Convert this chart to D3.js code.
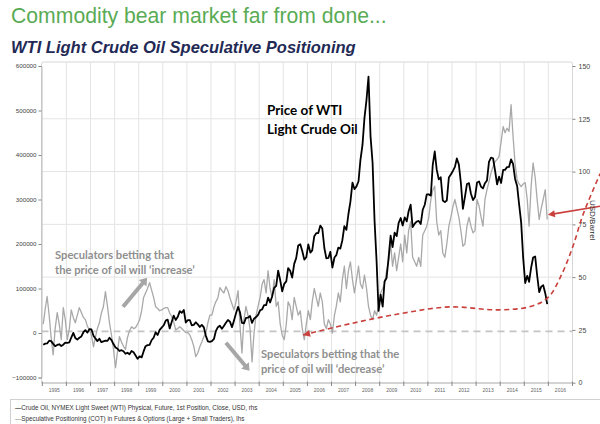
<!DOCTYPE html>
<html><head><meta charset="utf-8">
<script src="https://cdn.jsdelivr.net/npm/d3@7/dist/d3.min.js"></script>
<style>
body{margin:0;background:#fff;}
svg{display:block;font-family:"Liberation Sans",Arial,sans-serif;}
</style></head><body>
<svg id="c" width="600" height="424"></svg>
<script>
// ---------- DATA ----------
const startYear = 1995; // monthly series start (January)
// WTI crude oil, USD/barrel (right axis), monthly Jan 1995 - Dec 2015
const wti = [
18.0,18.5,18.6,19.9,19.7,18.4,17.3,17.9,18.2,17.4,18.0,19.0,
18.9,19.1,21.4,23.6,21.2,20.4,21.3,21.9,23.9,24.9,23.7,25.4,
25.2,22.2,21.0,19.7,20.8,19.2,19.6,19.9,19.8,21.3,20.2,18.3,
16.7,16.1,15.0,15.4,14.9,13.7,14.2,13.5,15.0,14.4,12.9,11.3,
12.5,12.0,14.7,17.3,17.8,17.9,20.1,21.3,23.9,22.6,25.0,26.1,
27.2,29.4,29.9,25.7,28.8,31.8,29.7,31.2,33.9,33.1,34.4,28.5,
29.6,29.6,27.2,27.4,28.6,27.6,26.4,27.4,26.2,22.2,19.6,19.3,
19.7,20.7,24.4,26.3,27.0,25.5,26.9,28.4,29.7,28.9,26.3,29.4,
32.9,35.9,33.5,28.3,28.1,30.7,30.8,31.6,28.3,30.3,31.1,32.1,
34.3,34.7,36.7,36.7,40.3,38.0,40.8,44.9,45.9,53.1,48.5,43.3,
46.8,48.0,54.3,53.0,49.8,56.3,59.0,65.0,65.6,62.4,58.3,59.4,
65.5,61.6,62.7,69.4,70.8,70.9,74.4,73.0,63.8,58.9,59.1,62.0,
54.5,59.3,60.4,64.0,63.5,67.5,74.1,72.4,79.9,85.8,94.8,91.7,
93.0,95.4,105.5,112.6,125.4,134.0,145.0,116.7,104.1,76.6,57.3,34.0,
41.7,36.0,47.9,49.6,59.0,69.6,64.2,71.1,69.4,75.7,78.0,74.5,
78.3,76.4,81.2,84.3,73.7,75.3,76.3,76.6,75.2,81.9,84.3,89.2,
89.2,88.6,102.9,109.5,100.9,96.3,97.3,86.3,85.5,86.3,97.2,98.6,
100.3,102.2,106.2,103.3,94.7,82.3,87.9,94.1,94.5,89.5,86.5,87.9,
94.8,95.3,92.9,92.0,94.5,95.8,104.6,106.6,106.3,100.5,93.9,97.6,
94.6,100.8,100.8,102.1,102.2,105.8,103.6,96.5,93.2,84.4,75.8,59.3,
47.2,50.6,47.8,54.5,59.3,59.8,50.9,42.9,45.5,46.2,42.4,37.2
];
// Speculative net positioning, thousands of contracts (left axis), monthly Jan 1995 - Dec 2015
const positioning = [
20,55,82,40,-10,-49,10,46,20,-15,57,30,
-15,10,52,35,23,40,57,46,35,30,15,7,
-5,-31,-10,10,23,45,59,93,60,23,-5,-37,
-78,-40,-8,-20,-30,-37,-10,5,14,10,12,20,
30,50,79,90,100,113,97,80,59,55,50,52,
55,57,57,45,37,25,7,10,14,10,5,1,
1,-5,-15,-30,-53,-45,-31,-20,-8,0,23,40,
40,59,70,79,102,95,90,104,95,79,65,52,
70,95,20,-45,30,60,40,10,-65,0,40,60,
80,110,120,90,140,100,80,120,60,70,20,-5,
-15,20,70,60,30,80,60,40,50,10,-15,20,
50,30,70,100,80,60,90,70,20,10,30,20,
0,40,60,90,70,120,150,100,140,160,120,90,
120,150,110,100,130,100,60,40,30,50,40,60,
90,100,110,140,160,200,150,180,140,170,200,160,
220,180,230,250,170,160,150,170,150,220,230,240,
260,300,320,330,250,220,230,180,170,200,240,260,
284,300,280,260,230,195,200,240,260,240,225,230,
300,285,262,240,300,322,340,360,374,385,390,397,
430,464,450,460,453,513,442,380,344,335,329,335,
338,300,240,330,382,350,300,255,280,300,322,255
];
const yearLabels = d3.range(1995, 2017);
const leftTicks = [-100000,0,100000,200000,300000,400000,500000,600000];
const rightTicks = [0,25,50,75,100,125,150];
const legendItems = [
  {text:"Crude Oil, NYMEX Light Sweet (WTI) Physical, Future, 1st Position, Close, USD, rhs", color:"#000"},
  {text:"Speculative Positioning (COT) in Futures & Options (Large + Small Traders), lhs", color:"#888"}
];
// annotation anchors in data space [year, value]
const redCurve = [[2005.82,22.6],[2007.8,28],[2009.9,32.8],[2011.9,35.9],[2013.9,34.5],[2015.3,36.2],[2016.0,40.5],[2016.5,50],[2017.0,64],[2017.45,80],[2018.15,99]];
const redArrow = [[2018.15,83.6],[2015.98,79.5]];
const upArrow = [[1998.35,59000],[1999.35,124000]];
const downArrow = [[2002.62,-22000],[2003.6,-85000]];

// ---------- LAYOUT ----------
const svg = d3.select("#c");
const X0 = 42.3, X1 = 572.5, PT = 62, PB = 383;
const toDate = y => { const yr = Math.floor(y); return new Date(yr,0,1).getTime() + (y-yr)*(new Date(yr+1,0,1)-new Date(yr,0,1)); };
const x = d3.scaleTime().domain([new Date(1995,0,1), new Date(2017,0,1)]).range([X0, X1]);
const yR = d3.scaleLinear().domain([0,150]).range([382.7,66]);
const yL = d3.scaleLinear().domain([-100000,600000]).range([377.5,66]);
const months = d3.range(wti.length).map(i => new Date(startYear, i, 15));

// titles
svg.append("text").attr("x",11).attr("y",23).attr("fill","#5aab55")
  .style("font-size","21.2px").text("Commodity bear market far from done...");
svg.append("text").attr("x",11).attr("y",53).attr("fill","#1f2a55")
  .style("font-size","16.5px").style("font-weight","bold").style("font-style","italic")
  .text("WTI Light Crude Oil Speculative Positioning");

// plot frame
svg.append("rect").attr("x",41.5).attr("y",PT).attr("width",X1-41.5).attr("height",PB-PT)
  .attr("fill","#fff").attr("stroke","#d6d6d6").attr("rx",2);

// vertical grid
const yearBounds = d3.timeYear.range(new Date(1996,0,1), new Date(2017,0,1));
svg.append("g").selectAll("line").data(yearBounds).join("line")
  .attr("x1",d=>x(d)).attr("x2",d=>x(d)).attr("y1",PT).attr("y2",PB)
  .attr("stroke","#e4e4e4").attr("stroke-width",1);
// horizontal grid (right axis ticks)
svg.append("g").selectAll("line").data(rightTicks.filter(t=>t>25 && t<150)).join("line")
  .attr("x1",41.5).attr("x2",X1).attr("y1",d=>yR(d)).attr("y2",d=>yR(d))
  .attr("stroke","#e4e4e4").attr("stroke-width",1);
svg.append("line").attr("x1",41.5).attr("x2",X1).attr("y1",yR(25)+1.5).attr("y2",yR(25)+1.5)
  .attr("stroke","#c4c4c4").attr("stroke-width",1.6).attr("stroke-dasharray","7,5");

// left axis
const gl = svg.append("g").attr("transform",`translate(41.5,0)`)
  .call(d3.axisLeft(yL).tickValues(leftTicks).tickSize(3).tickPadding(2).tickFormat(d3.format("d")));
gl.select(".domain").attr("stroke","#bbb");
gl.selectAll(".tick line").attr("stroke","#888");
gl.selectAll("text").style("font-size","6.2px").attr("fill","#444").style("font-family","Liberation Sans, Arial");
// right axis
const gr = svg.append("g").attr("transform",`translate(${X1},0)`)
  .call(d3.axisRight(yR).tickValues(rightTicks).tickSize(3).tickPadding(3));
gr.select(".domain").remove();
gr.selectAll(".tick line").attr("stroke","#888");
gr.selectAll("text").style("font-size","7px").attr("fill","#444").style("font-family","Liberation Sans, Arial");
// bottom axis
const gb = svg.append("g").attr("transform",`translate(0,${PB})`);
gb.append("line").attr("x1",41.5).attr("x2",X1).attr("stroke","#bbb");
gb.selectAll("line.tk").data(d3.timeYear.range(new Date(1995,0,1), new Date(2018,0,1))).join("line")
  .attr("class","tk").attr("x1",d=>x(d)).attr("x2",d=>x(d)).attr("y1",-1.5).attr("y2",3).attr("stroke","#888");
gb.selectAll("text").data(yearLabels).join("text")
  .attr("x",d=>x(new Date(d,6,2))).attr("y",8.5).attr("text-anchor","middle")
  .style("font-size","5px").attr("fill","#666").text(d=>d);

// series
const lineL = d3.line().x((d,i)=>x(months[i])).y(d=>yL(d*1000));
const lineR = d3.line().x((d,i)=>x(months[i])).y(d=>yR(d));
svg.append("path").datum(positioning).attr("d",lineL).attr("fill","none")
  .attr("stroke","#a9a9a9").attr("stroke-width",1.3).attr("stroke-linejoin","round");
svg.append("path").datum(wti).attr("d",lineR).attr("fill","none")
  .attr("stroke","#000").attr("stroke-width",1.8).attr("stroke-linejoin","round");

// arrows
function arrow(x1,y1,x2,y2,color,w,hl,hw){
  const dx=x2-x1, dy=y2-y1, L=Math.hypot(dx,dy), ux=dx/L, uy=dy/L;
  const bx=x2-ux*hl, by=y2-uy*hl;
  svg.append("line").attr("x1",x1).attr("y1",y1).attr("x2",bx+ux*1).attr("y2",by+uy*1)
    .attr("stroke",color).attr("stroke-width",w);
  svg.append("path").attr("d",`M${x2},${y2}L${bx-uy*hw},${by+ux*hw}L${bx+uy*hw},${by-ux*hw}Z`).attr("fill",color);
}
const P = (p,ys)=>[x(toDate(p[0])), ys(p[1])];
let a=P(upArrow[0],yL), b=P(upArrow[1],yL);
arrow(a[0],a[1],b[0],b[1],"#a6a6a6",4,7,5);
a=P(downArrow[0],yL); b=P(downArrow[1],yL);
arrow(a[0],a[1],b[0],b[1],"#a6a6a6",4,7,5);

// red dashed curve
const rc = redCurve.map(p=>P(p,yR));
svg.append("path").attr("d",d3.line().curve(d3.curveCatmullRom)(rc)).attr("fill","none")
  .attr("stroke","#c9403c").attr("stroke-width",1.6).attr("stroke-dasharray","5,3.5");
{ const p0=rc[0], p1=rc[1]; const dx=p0[0]-p1[0], dy=p0[1]-p1[1], L=Math.hypot(dx,dy), ux=dx/L, uy=dy/L;
  const bx=p0[0]-ux*7, by=p0[1]-uy*7;
  svg.append("path").attr("d",`M${p0[0]},${p0[1]}L${bx-uy*3.5},${by+ux*3.5}L${bx+uy*3.5},${by-ux*3.5}Z`).attr("fill","#c9403c"); }
a=P(redArrow[0],yR); b=P(redArrow[1],yR);
arrow(a[0],a[1],b[0],b[1],"#c9403c",1.6,7,3.5);

// annotations
const ann = svg.append("g").style("font-family","Lato, 'Open Sans', sans-serif").style("font-weight","bold");
ann.append("text").attr("x",267).attr("y",115).style("font-size","13.5px").attr("fill","#000").text("Price of WTI");
ann.append("text").attr("x",267).attr("y",133.5).style("font-size","13.5px").attr("fill","#000").text("Light Crude Oil");
ann.append("text").attr("x",55).attr("y",258.5).style("font-size","11.2px").attr("fill","#8f8f8f").text("Speculators betting that");
ann.append("text").attr("x",55).attr("y",273.5).style("font-size","11.2px").attr("fill","#8f8f8f").text("the price of oil will \u2018increase\u2019");
ann.append("text").attr("x",261).attr("y",357.5).style("font-size","11.2px").attr("fill","#8f8f8f").text("Speculators betting that the");
ann.append("text").attr("x",261).attr("y",373).style("font-size","11.2px").attr("fill","#8f8f8f").text("price of oil will \u2018decrease\u2019");
svg.append("text").attr("transform","translate(590,200) rotate(90)").style("font-size","8px").attr("fill","#333").text("USD/Barrel");

// legend
svg.append("rect").attr("x",10.5).attr("y",399.5).attr("width",600).attr("height",30).attr("fill","none").attr("stroke","#d0d0d0");
legendItems.forEach((it,i)=>{
  const t = svg.append("text").attr("x",15).attr("y",409.5+i*11).style("font-size","6.3px").attr("fill","#333");
  t.append("tspan").attr("fill",it.color).text("\u2014");
  t.append("tspan").text(it.text);
});
</script>
</body></html>
